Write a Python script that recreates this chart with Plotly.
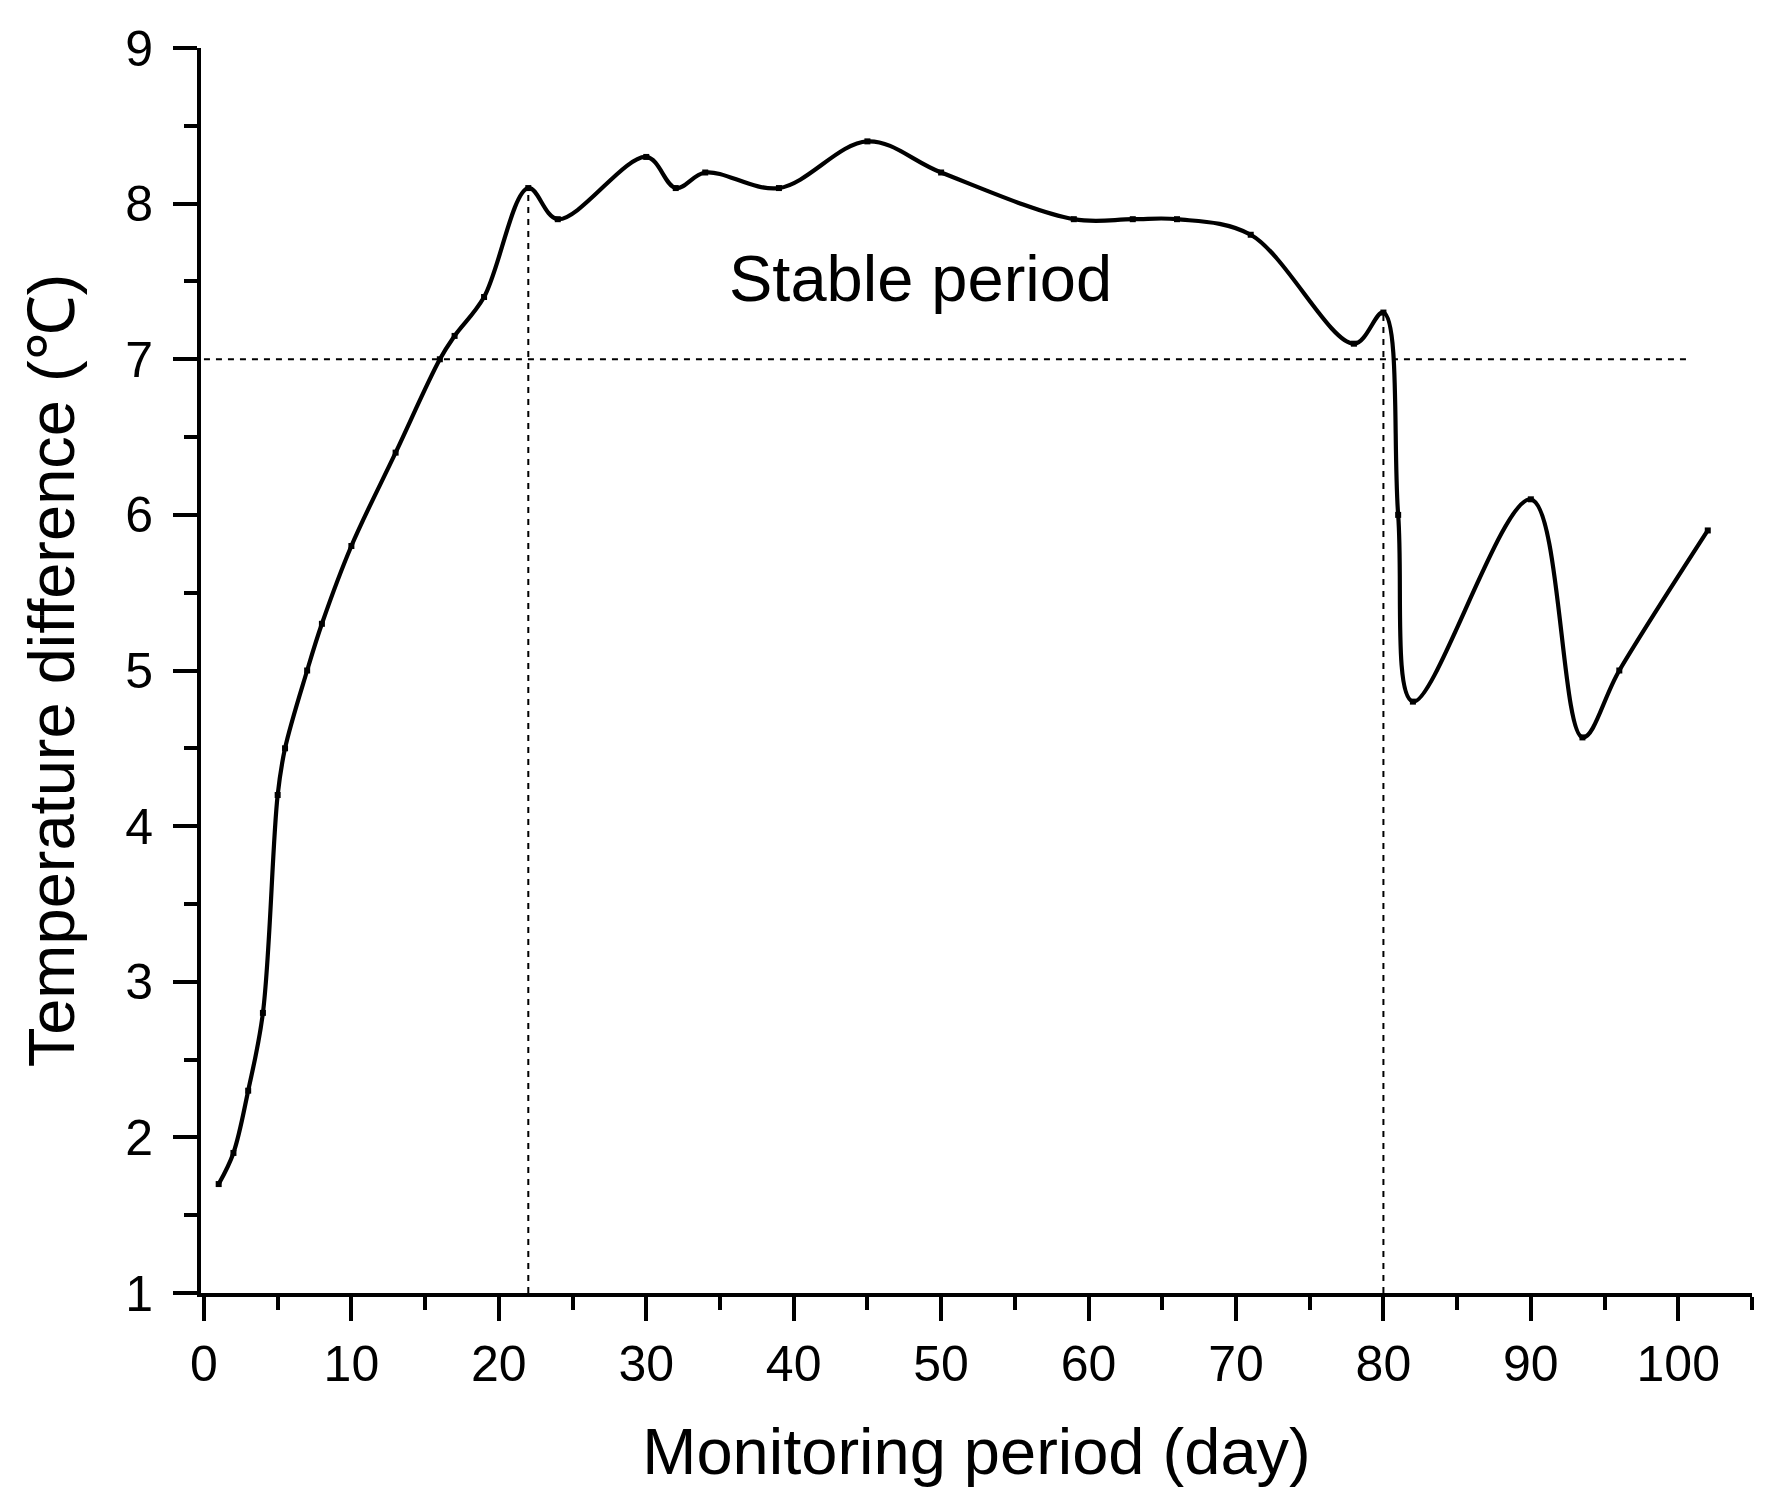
import plotly.graph_objects as go

# Data
days = [1, 2, 3, 4, 5, 5.5, 7, 8, 10, 13, 16, 17, 19, 22, 24, 30, 32, 34, 39, 45, 50,
        59, 63, 66, 71, 78, 80, 81, 82, 90, 93.5, 96, 102]
temp_diff = [1.7, 1.9, 2.3, 2.8, 4.2, 4.5, 5.0, 5.3, 5.8, 6.4, 7.0, 7.15, 7.4, 8.1, 7.9, 8.3, 8.1, 8.2, 8.1, 8.4, 8.2,
             7.9, 7.9, 7.9, 7.8, 7.1, 7.3, 6.0, 4.8, 6.1, 4.57, 5.0, 5.9]

threshold = 7
stable_start = 22
stable_end = 80
stable_start_top = 8.1
stable_end_top = 7.3
threshold_line_x = [0, 100.6]

x_ticks = list(range(0, 101, 10))
y_ticks = list(range(1, 10))

FONT = "Liberation Sans, Arial, sans-serif"

fig = go.Figure()

dash_style = dict(color="black", width=2, dash="6px,6px")
fig.add_trace(go.Scatter(x=threshold_line_x, y=[threshold, threshold], mode="lines",
                         line=dash_style, hoverinfo="skip", showlegend=False))
fig.add_trace(go.Scatter(x=[stable_start, stable_start], y=[1, stable_start_top], mode="lines",
                         line=dash_style, hoverinfo="skip", showlegend=False))
fig.add_trace(go.Scatter(x=[stable_end, stable_end], y=[1, stable_end_top], mode="lines",
                         line=dash_style, hoverinfo="skip", showlegend=False))

fig.add_trace(go.Scatter(
    x=days, y=temp_diff, mode="lines+markers",
    line=dict(color="black", width=4.2, shape="spline", smoothing=1.0),
    marker=dict(symbol="square", size=6, color="black"),
    showlegend=False,
))

fig.add_annotation(x=48.6, y=7.52, text="Stable period", showarrow=False,
                   font=dict(family=FONT, size=65, color="black"))

fig.update_layout(
    width=1778, height=1504,
    paper_bgcolor="white", plot_bgcolor="white",
    margin=dict(l=193, r=34, t=32, b=219),
    font=dict(family=FONT, color="black"),
    xaxis=dict(
        range=[-0.2, 105], tickvals=x_ticks, ticks="outside", ticklen=24, tickwidth=3.5,
        tickcolor="black", showline=True, linecolor="black", linewidth=4,
        showgrid=False, zeroline=False, mirror=False,
        tickfont=dict(family=FONT, size=50, color="black"),
        minor=dict(dtick=5, tick0=0, ticks="outside", ticklen=13, tickwidth=3.5, tickcolor="black", showgrid=False),
        title=dict(text="Monitoring period (day)", font=dict(family=FONT, size=65, color="black"), standoff=38),
    ),
    yaxis=dict(
        range=[1, 9], tickvals=y_ticks, ticks="outside", ticklen=24, tickwidth=3.5,
        tickcolor="black", showline=True, linecolor="black", linewidth=4,
        showgrid=False, zeroline=False, ticklabelstandoff=10,
        tickfont=dict(family=FONT, size=50, color="black"),
        minor=dict(dtick=0.5, tick0=1, ticks="outside", ticklen=13, tickwidth=3.5, tickcolor="black", showgrid=False),
        title=dict(text="Temperature difference (℃)", font=dict(family=FONT, size=65, color="black"), standoff=30),
    ),
)

fig.write_html("out.html")
